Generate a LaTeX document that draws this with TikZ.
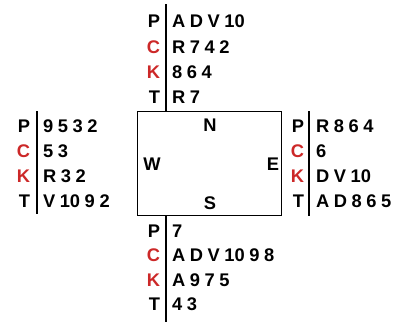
\documentclass[tikz,border=0pt]{standalone}
\usepackage{fontspec}
\setmainfont{Liberation Sans}
\definecolor{suitred}{RGB}{204,40,40}
\newcommand\cg{\kern4.6pt}
\begin{document}
\begin{tikzpicture}[x=1pt,y=-1pt,
  every node/.style={inner sep=0pt, outer sep=0pt, font=\fontsize{18.3}{18}\selectfont\bfseries},
  suit/.style={anchor=base east},
  redsuit/.style={anchor=base east, text=suitred},
  cards/.style={anchor=base west},
  seat/.style={anchor=base},
  handline/.style={line width=2pt},
]
\useasboundingbox (0,0) rectangle (398,327);
\node[draw, line width=1pt, minimum width=144pt, minimum height=104pt, anchor=north west] (table) at (137,111) {};
% seats
\node[seat] (seatN) at (210,131) {N};
\node[seat] (seatW) at (152,170) {W};
\node[seat] (seatE) at (273,170) {E};
\node[seat] (seatS) at (210,209) {S};
% North hand
\coordinate (ntop) at (166,4);
\draw[handline] (ntop) -- (table.north -| ntop);
\node[suit] (nP) at (160,27) {P};    \node[cards] (nPc) at (172,27) {A\cg D\cg V\cg 10};
\node[redsuit] (nC) at (160,53) {C}; \node[cards] (nCc) at (172,53) {R\cg 7\cg 4\cg 2};
\node[redsuit] (nK) at (160,78) {K}; \node[cards] (nKc) at (172,78) {8\cg 6\cg 4};
\node[suit] (nT) at (160,103) {T};   \node[cards] (nTc) at (172,103) {R\cg 7};
% West hand
\coordinate (wtop) at (37,111);
\coordinate (wbot) at (37,214);
\draw[handline] (wtop) -- (wbot);
\node[suit] (wP) at (30,132) {P};    \node[cards] (wPc) at (43,132) {9\cg 5\cg 3\cg 2};
\node[redsuit] (wC) at (30,157) {C}; \node[cards] (wCc) at (43,157) {5\cg 3};
\node[redsuit] (wK) at (30,182) {K}; \node[cards] (wKc) at (43,182) {R\cg 3\cg 2};
\node[suit] (wT) at (30,207) {T};    \node[cards] (wTc) at (43,207) {V\cg 10\cg 9\cg 2};
% East hand
\coordinate (etop) at (309,111);
\coordinate (ebot) at (309,216);
\draw[handline] (etop) -- (ebot);
\node[suit] (eP) at (304,132) {P};    \node[cards] (ePc) at (316,132) {R\cg 8\cg 6\cg 4};
\node[redsuit] (eC) at (304,157) {C}; \node[cards] (eCc) at (316,157) {6};
\node[redsuit] (eK) at (304,182) {K}; \node[cards] (eKc) at (316,182) {D\cg V\cg 10};
\node[suit] (eT) at (304,207) {T};    \node[cards] (eTc) at (316,207) {A\cg D\cg 8\cg 6\cg 5};
% South hand
\coordinate (sbot) at (166,322);
\draw[handline] (table.south -| sbot) -- (sbot);
\node[suit] (sP) at (160,237) {P};    \node[cards] (sPc) at (172,237) {7};
\node[redsuit] (sC) at (160,261) {C}; \node[cards] (sCc) at (172,261) {A\cg D\cg V\cg 10\cg 9\cg 8};
\node[redsuit] (sK) at (160,286) {K}; \node[cards] (sKc) at (172,286) {A\cg 9\cg 7\cg 5};
\node[suit] (sT) at (160,310) {T};    \node[cards] (sTc) at (172,310) {4\cg 3};
\end{tikzpicture}
\end{document}
